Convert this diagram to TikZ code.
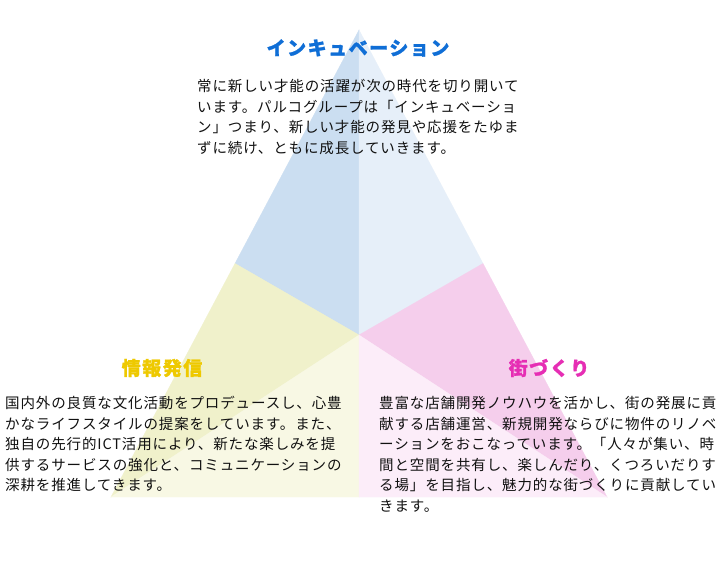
\documentclass[tikz,border=0pt]{standalone}
\usepackage{fontspec}
\newfontfamily\jpbody{Noto Sans CJK JP}[LetterSpace=6]
\newfontfamily\jptitle{Noto Sans CJK JP}[LetterSpace=8, BoldFeatures={FakeBold=1.2}]
\definecolor{blueA}{HTML}{CBDEF1}
\definecolor{blueB}{HTML}{E6EFF9}
\definecolor{yelA}{HTML}{F0F1CB}
\definecolor{yelB}{HTML}{F8F8E4}
\definecolor{pinkA}{HTML}{F5CEEC}
\definecolor{pinkB}{HTML}{FCEDF9}
\definecolor{ttlBlue}{HTML}{0F6ED6}
\definecolor{ttlYel}{HTML}{EEC900}
\definecolor{ttlPink}{HTML}{E62EB4}
\definecolor{txt}{HTML}{111111}
\begin{document}
\begin{tikzpicture}[x=1pt,y=-1pt,
  body/.style={anchor=north west, inner sep=0pt, align=left, text=txt,
    font=\jpbody\fontsize{14.5}{20.6}\selectfont},
  ttl/.style={anchor=center, inner sep=0pt,
    font=\jptitle\bfseries\fontsize{19}{22}\selectfont},
  region/.style={fill=#1, draw=#1, line width=0.3pt}]
\useasboundingbox (0,0) rectangle (720,564);
\fill[white] (0,0) rectangle (720,564);
% triangle points
\coordinate (A) at (359,30);
\coordinate (L) at (111,497);
\coordinate (R) at (607,497);
\coordinate (ML) at (235,263.5);
\coordinate (MR) at (483,263.5);
\coordinate (MB) at (359,497);
\coordinate (C) at (359,335);
% regions
\path[region=blueA] (A) -- (ML) -- (C) -- cycle;
\path[region=blueB] (A) -- (C) -- (MR) -- cycle;
\path[region=yelA] (ML) -- (L) -- (C) -- cycle;
\path[region=yelB] (L) -- (MB) -- (C) -- cycle;
\path[region=pinkA] (MR) -- (C) -- (R) -- cycle;
\path[region=pinkB] (C) -- (MB) -- (R) -- cycle;
% titles
\node[ttl, text=ttlBlue] (tInc) at (358,48) {インキュベーション};
\node[ttl, text=ttlYel] (tInfo) at (162,368) {情報発信};
\node[ttl, text=ttlPink] (tTown) at (549,368) {街づくり};
% texts
\node[body] (bInc) at (197,79) {常に新しい才能の活躍が次の時代を切り開いて\\います。パルコグループは「インキュベーショ\\ン」つまり、新しい才能の発見や応援をたゆま\\ずに続け、ともに成長していきます。};
\node[body] (bInfo) at (5,396) {国内外の良質な文化活動をプロデュースし、心豊\\かなライフスタイルの提案をしています。また、\\独自の先行的ICT活用により、新たな楽しみを提\\供するサービスの強化と、コミュニケーションの\\深耕を推進してきます。};
\node[body] (bTown) at (379,396) {豊富な店舗開発ノウハウを活かし、街の発展に貢\\献する店舗運営、新規開発ならびに物件のリノベ\\ーションをおこなっています。「人々が集い、時\\間と空間を共有し、楽しんだり、くつろいだりす\\る場」を目指し、魅力的な街づくりに貢献してい\\きます。};
\end{tikzpicture}
\end{document}
